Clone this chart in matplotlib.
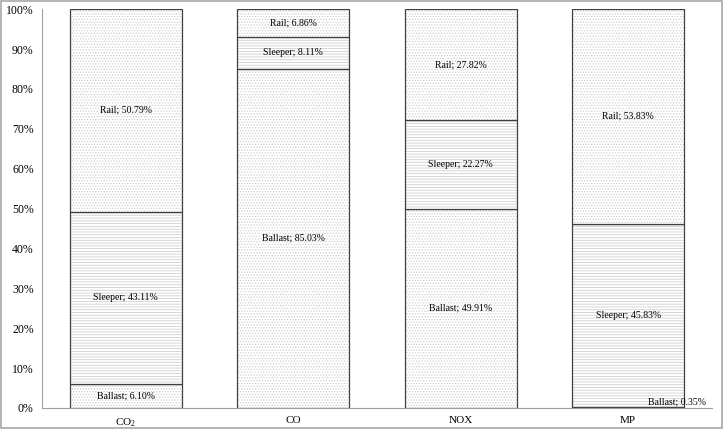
import matplotlib.pyplot as plt
import numpy as np
from matplotlib.patches import Rectangle

plt.rcParams["font.family"] = ["Liberation Serif", "DejaVu Serif"]
plt.rcParams["mathtext.fontset"] = "custom"
plt.rcParams["mathtext.rm"] = "Liberation Serif"
plt.rcParams["mathtext.it"] = "Liberation Serif"
plt.rcParams["hatch.linewidth"] = 0.6

categories = ["CO$_2$", "CO", "NOX", "MP"]
components = ["Ballast", "Sleeper", "Rail"]
ballast = [6.10, 85.03, 49.91, 0.35]
sleeper = [43.11, 8.11, 22.27, 45.83]
rail = [50.79, 6.86, 27.82, 53.83]

series = [ballast, sleeper, rail]
hatches = ["......", "------", "......"]

fig = plt.figure(figsize=(7.28, 4.37), dpi=100)
ax = fig.add_axes([0.0577, 0.0664, 0.9203, 0.9126])

x = np.arange(len(categories))
width = 0.669
bottom = np.zeros(len(categories))
for name, vals, h in zip(components, series, hatches):
    vals = np.array(vals)
    ax.bar(x, vals, width, bottom=bottom, color="white", edgecolor="#cfcfcf",
           hatch=h, linewidth=0)
    ax.bar(x, vals, width, bottom=bottom, fill=False, edgecolor="#404040",
           linewidth=0.9)
    for i, v in enumerate(vals):
        label = f"{name}; {v:.2f}%"
        if v < 2:
            ax.text(i + 0.29, bottom[i] + 1.5, label, ha="center", va="center",
                    fontsize=7)
        else:
            ax.text(i, bottom[i] + v / 2, label, ha="center", va="center",
                    fontsize=7)
    bottom += vals

ax.set_xlim(-0.5, 3.5)
ax.set_ylim(0, 100)
ax.set_xticks(x)
ax.set_xticklabels(categories, fontsize=8)
ax.set_yticks(np.arange(0, 101, 10))
ax.set_yticklabels([f"{t}%" for t in range(0, 101, 10)], fontsize=8.5)
ax.tick_params(length=0, pad=6)
ax.tick_params(axis="x", pad=6)
for side in ["top", "right"]:
    ax.spines[side].set_visible(False)
for side in ["left", "bottom"]:
    ax.spines[side].set_color("#a0a0a0")
    ax.spines[side].set_linewidth(0.8)

fig.patches.append(Rectangle((1 / 728, 9 / 437), 721 / 728, 427 / 437,
                             transform=fig.transFigure, fill=False,
                             edgecolor="#a8a8a8", linewidth=1.2))

fig.savefig("out.png", dpi=100)
